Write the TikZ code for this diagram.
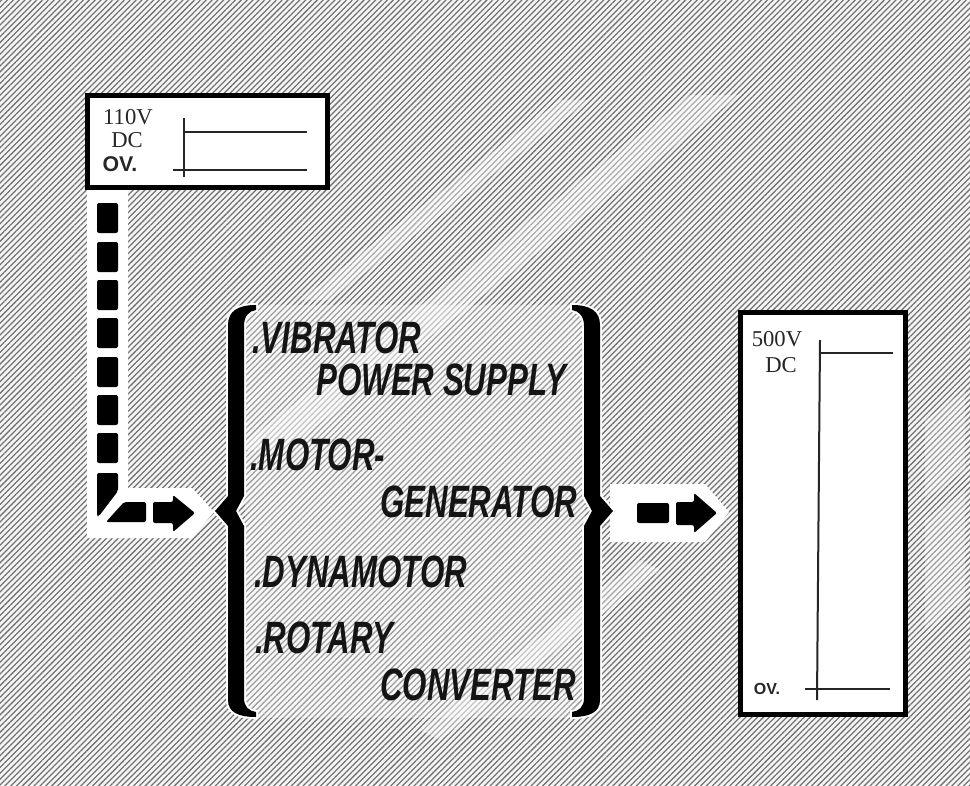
\documentclass[tikz,border=0pt]{standalone}
\usepackage{fontspec}
\setmainfont{Liberation Serif}
\newfontfamily\condfont[FakeStretch=0.69]{Liberation Sans}
\newfontfamily\labsans{Liberation Sans}
\usetikzlibrary{patterns.meta}
\begin{document}
\begin{tikzpicture}[x=0.75pt,y=-0.75pt,
  hatch/.style={pattern={Lines[angle=45,distance=3.1pt,line width=0.95pt]}, pattern color=black!55},
  frame/.style={draw=black, line width=3.6pt, fill=white, inner sep=0pt},
  trace/.style={line width=1.5pt, draw=black!85},
  dashblk/.style={fill=black, rounded corners=1.5pt},
  halo/.style={fill=white},
  streak/.style={fill=white, opacity=0.4},
  item/.style={font=\condfont\bfseries\itshape\fontsize{34}{36}\selectfont, anchor=base west, inner sep=0pt, text=black!92},
  vlab/.style={font=\fontsize{17}{18}\selectfont, inner sep=0pt, anchor=base, text=black!85},
  olab/.style={font=\labsans\bfseries\fontsize{16}{18}\selectfont, inner sep=0pt, text=black!85},
  bracefill/.style={fill=black, preaction={draw=white, line width=3pt}},
]
\useasboundingbox (0,0) rectangle (970,785);
% background
\fill[white!96!black] (0,0) rectangle (970,785);
\fill[hatch] (0,0) rectangle (970,785);
% lighter streaks
\fill[streak] (235,450) -- (690,95) -- (740,95) -- (285,450) -- cycle;
\fill[streak] (300,300) -- (560,100) -- (590,100) -- (330,300) -- cycle;
\fill[streak] (420,730) -- (640,560) -- (660,570) -- (440,740) -- cycle;
\fill[streak, opacity=0.3] (925,420) -- (965,390) -- (965,470) -- (925,500) -- cycle;
\fill[streak, opacity=0.3] (925,520) -- (965,490) -- (965,600) -- (925,630) -- cycle;
\fill[white, opacity=0.3] (245,305) rectangle (585,718);

% input box
\node[frame, minimum width=180pt, minimum height=69pt] (inbox) at (207.5,141.5) {};
\node[vlab] (in110) at (128,124.5) {110V};
\node[vlab] (indc) at (127,147.5) {DC};
\node[olab] (in0v) at (120,164) {OV.};
\coordinate (ia) at (184,118);
\coordinate (ib) at (184,177);
\draw[trace] (ia) -- (ib);
\draw[trace] (184,132) -- (307,132);
\draw[trace] (173,170) -- (307,170);

% white L halo
\fill[halo] (87,190) -- (128,190) -- (128,488) -- (192,488) -- (214,512) -- (192,538) -- (87,538) -- cycle;
% vertical dashes
\foreach \ya/\yb in {203/233,242/272,280/310,318/348,357/387,395/425,433/463}
  \fill[dashblk] (97,\ya) rectangle (118,\yb);
\fill[dashblk] (97,473) -- (118,473) -- (118,491) -- (99,516) -- (97,516) -- cycle;
\fill[dashblk] (124,502) -- (146,502) -- (146,522) -- (106,522) -- cycle;
\fill[dashblk] (153,502) -- (173,502) -- (173,495) -- (195,513) -- (173,532) -- (173,523) -- (153,523) -- cycle;

% right halo and arrow
\fill[halo] (610,484) -- (705,484) -- (729,512) -- (705,542) -- (610,542) -- cycle;
\fill[dashblk] (637,503) rectangle (669,523);
\fill[dashblk] (676,502) -- (694,502) -- (694,493) -- (717,513) -- (694,533) -- (694,525) -- (676,525) -- cycle;

% braces
\def\bracepath{(256,305) .. controls (238,305) and (228,311) .. (228,325) -- (228,496) -- (215,511) -- (228,526) -- (228,700) .. controls (228,712) and (238,717) .. (256,717) -- (256,712) .. controls (249,711) and (244,707) .. (244,698) -- (244,526) -- (236,511) -- (244,496) -- (244,326) .. controls (244,316) and (249,311) .. (256,310) -- cycle}
\fill[bracefill] \bracepath;
\begin{scope}[shift={(828,0)}, xscale=-1]
\fill[bracefill] \bracepath;
\end{scope}

% items
\node[item] (t1) at (252,353) {.VIBRATOR};
\node[item] (t2) at (316,395) {POWER SUPPLY};
\node[item] (t3) at (250,470) {.MOTOR-};
\node[item] (t4) at (380,517) {GENERATOR};
\node[item] (t5) at (254,587) {.DYNAMOTOR};
\node[item] (t6) at (255,653) {.ROTARY};
\node[item] (t7) at (380,700) {CONVERTER};

% output box
\node[frame, minimum width=123.75pt, minimum height=301.5pt] (outbox) at (823,513.5) {};
\node[vlab] (o500) at (777,346) {500V};
\node[vlab] (odc) at (781,372) {DC};
\node[olab, font=\labsans\bfseries\fontsize{12}{14}\selectfont] (o0v) at (767,689) {OV.};
\coordinate (oa) at (820,340);
\coordinate (ob) at (817,700);
\draw[trace] (oa) -- (ob);
\draw[trace] (820,353) -- (893,353);
\draw[trace] (805,689) -- (890,689);
\end{tikzpicture}
\end{document}
